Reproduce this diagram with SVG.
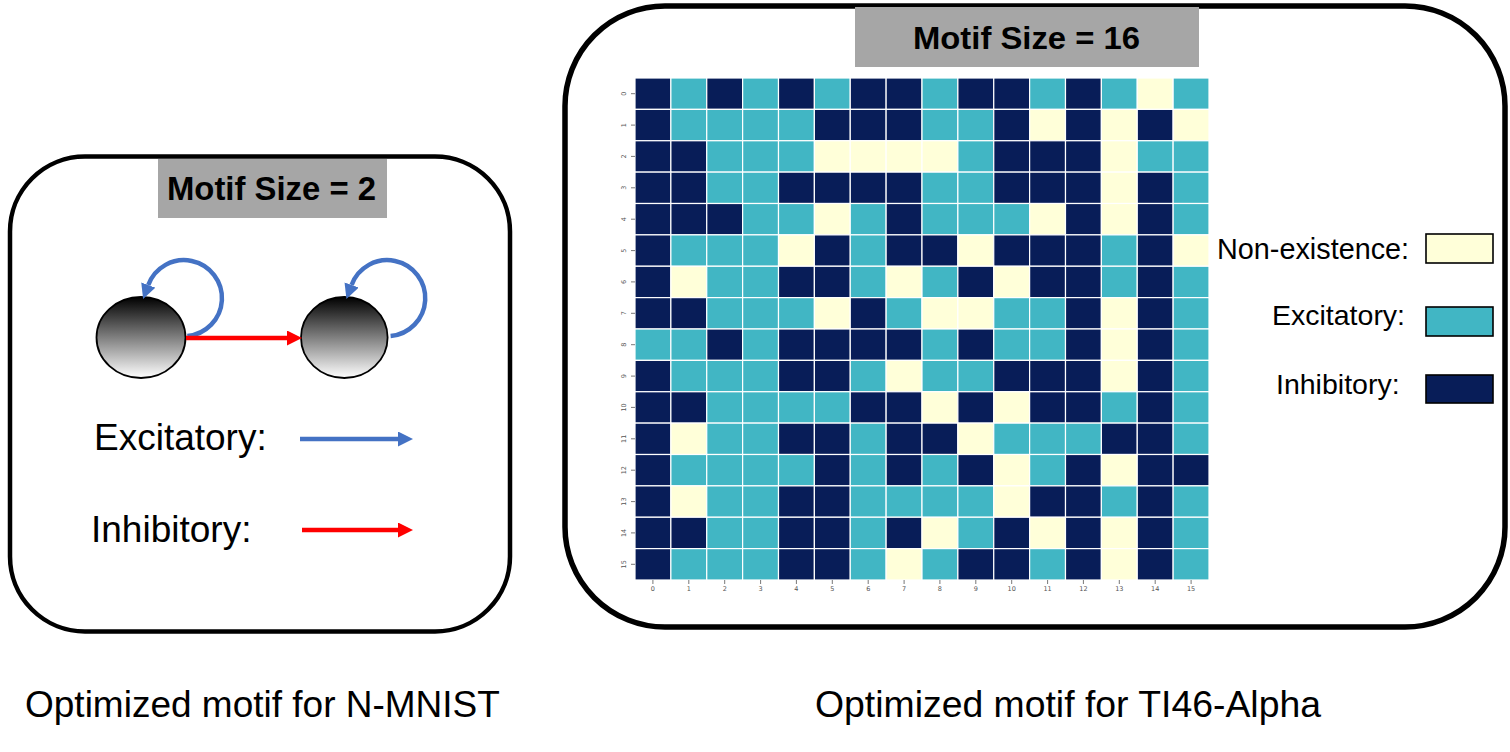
<svg xmlns="http://www.w3.org/2000/svg" xmlns:xlink="http://www.w3.org/1999/xlink" width="1510" height="752" viewBox="0 0 1510 752">
<style>
.box{fill:#fff;stroke:#000}
.tbg{fill:#a6a6a6}
.title{font-family:"Liberation Sans",Arial,sans-serif;font-weight:bold;fill:#000}
.lbl{font-family:"Liberation Sans",Arial,sans-serif;fill:#000}
.d{fill:#081d58;stroke:#fff;stroke-width:1.2}
.e{fill:#41b6c4;stroke:#fff;stroke-width:1.2}
.n{fill:#ffffd9;stroke:#fff;stroke-width:1.2}
.tk{font-family:"DejaVu Sans",sans-serif;font-size:6.5px;fill:#555}
.tl{stroke:#555;stroke-width:0.8}
.node{fill:url(#ng);stroke:#000;stroke-width:1.8}
.bl{fill:none;stroke:#4472c4;stroke-width:4.5}
.rd{fill:none;stroke:#ff0000;stroke-width:4.5}
.leg{stroke:#000;stroke-width:1.6}
</style>
<defs>
<linearGradient id="ng" x1="0" y1="0" x2="0" y2="1">
<stop offset="0" stop-color="#000"/>
<stop offset="1" stop-color="#fff"/>
</linearGradient>
<marker id="ab" markerUnits="userSpaceOnUse" markerWidth="16" markerHeight="16" refX="0" refY="7.5" orient="auto"><path d="M0,0 L15,7.5 L0,15 z" fill="#4472c4"/></marker>
<marker id="ar" markerUnits="userSpaceOnUse" markerWidth="16" markerHeight="16" refX="0" refY="7.5" orient="auto"><path d="M0,0 L15,7.5 L0,15 z" fill="#ff0000"/></marker>
<rect id="D" width="35.875" height="31.375" class="d"/>
<rect id="E" width="35.875" height="31.375" class="e"/>
<rect id="N" width="35.875" height="31.375" class="n"/>
</defs>
<rect width="1510" height="752" fill="#fff"/>

<g id="panel-left">
<rect class="box" x="10" y="156.5" width="500" height="475" rx="75" ry="75" stroke-width="4.5"/>
<rect class="tbg" x="158" y="159" width="229" height="59"/>
<text class="title" x="167" y="200" font-size="34" textLength="209" lengthAdjust="spacingAndGlyphs">Motif Size = 2</text>
</g>
<g id="node-1"><ellipse class="node" cx="141" cy="337.5" rx="44.5" ry="40.5"/></g>
<g id="node-2"><ellipse class="node" cx="344.3" cy="337.5" rx="43.3" ry="40.5"/></g>
<g id="connectors">
<path class="bl" d="M187.3,336 A38,38 0 1 0 148.3,285" marker-end="url(#ab)"/>
<path class="bl" d="M390.6,336 A38,38 0 1 0 351.6,285" marker-end="url(#ab)"/>
<path class="rd" d="M186,338 L287,338" marker-end="url(#ar)"/>
</g>
<g id="legend-left">
<text class="lbl" x="94" y="450" font-size="37">Excitatory:</text>
<path class="bl" d="M300,439 L398,439" marker-end="url(#ab)"/>
<text class="lbl" x="91" y="542" font-size="37">Inhibitory:</text>
<path class="rd" d="M302,530 L398,530" marker-end="url(#ar)"/>
</g>

<g id="panel-right">
<rect class="box" x="565" y="6" width="940" height="621" rx="100" ry="100" stroke-width="5.5"/>
<rect class="tbg" x="855" y="7" width="344" height="60"/>
<text class="title" x="913" y="49" font-size="32" textLength="227" lengthAdjust="spacingAndGlyphs">Motif Size = 16</text>
</g>

<g id="heatmap">
<g transform="translate(0,78)"><use href="#D" x="635"/><use href="#E" x="670.875"/><use href="#D" x="706.75"/><use href="#E" x="742.625"/><use href="#D" x="778.5"/><use href="#E" x="814.375"/><use href="#D" x="850.25"/><use href="#D" x="886.125"/><use href="#E" x="922"/><use href="#D" x="957.875"/><use href="#D" x="993.75"/><use href="#E" x="1029.625"/><use href="#D" x="1065.5"/><use href="#E" x="1101.375"/><use href="#N" x="1137.25"/><use href="#E" x="1173.125"/></g>
<g transform="translate(0,109.375)"><use href="#D" x="635"/><use href="#E" x="670.875"/><use href="#E" x="706.75"/><use href="#E" x="742.625"/><use href="#E" x="778.5"/><use href="#D" x="814.375"/><use href="#D" x="850.25"/><use href="#D" x="886.125"/><use href="#E" x="922"/><use href="#E" x="957.875"/><use href="#D" x="993.75"/><use href="#N" x="1029.625"/><use href="#D" x="1065.5"/><use href="#N" x="1101.375"/><use href="#D" x="1137.25"/><use href="#N" x="1173.125"/></g>
<g transform="translate(0,140.75)"><use href="#D" x="635"/><use href="#D" x="670.875"/><use href="#E" x="706.75"/><use href="#E" x="742.625"/><use href="#E" x="778.5"/><use href="#N" x="814.375"/><use href="#N" x="850.25"/><use href="#N" x="886.125"/><use href="#N" x="922"/><use href="#E" x="957.875"/><use href="#D" x="993.75"/><use href="#D" x="1029.625"/><use href="#D" x="1065.5"/><use href="#N" x="1101.375"/><use href="#E" x="1137.25"/><use href="#E" x="1173.125"/></g>
<g transform="translate(0,172.125)"><use href="#D" x="635"/><use href="#D" x="670.875"/><use href="#E" x="706.75"/><use href="#E" x="742.625"/><use href="#D" x="778.5"/><use href="#D" x="814.375"/><use href="#D" x="850.25"/><use href="#D" x="886.125"/><use href="#E" x="922"/><use href="#E" x="957.875"/><use href="#D" x="993.75"/><use href="#D" x="1029.625"/><use href="#D" x="1065.5"/><use href="#N" x="1101.375"/><use href="#D" x="1137.25"/><use href="#E" x="1173.125"/></g>
<g transform="translate(0,203.5)"><use href="#D" x="635"/><use href="#D" x="670.875"/><use href="#D" x="706.75"/><use href="#E" x="742.625"/><use href="#E" x="778.5"/><use href="#N" x="814.375"/><use href="#E" x="850.25"/><use href="#D" x="886.125"/><use href="#E" x="922"/><use href="#E" x="957.875"/><use href="#E" x="993.75"/><use href="#N" x="1029.625"/><use href="#D" x="1065.5"/><use href="#N" x="1101.375"/><use href="#D" x="1137.25"/><use href="#E" x="1173.125"/></g>
<g transform="translate(0,234.875)"><use href="#D" x="635"/><use href="#E" x="670.875"/><use href="#E" x="706.75"/><use href="#E" x="742.625"/><use href="#N" x="778.5"/><use href="#D" x="814.375"/><use href="#E" x="850.25"/><use href="#D" x="886.125"/><use href="#D" x="922"/><use href="#N" x="957.875"/><use href="#D" x="993.75"/><use href="#D" x="1029.625"/><use href="#D" x="1065.5"/><use href="#E" x="1101.375"/><use href="#D" x="1137.25"/><use href="#N" x="1173.125"/></g>
<g transform="translate(0,266.25)"><use href="#D" x="635"/><use href="#N" x="670.875"/><use href="#E" x="706.75"/><use href="#E" x="742.625"/><use href="#D" x="778.5"/><use href="#D" x="814.375"/><use href="#E" x="850.25"/><use href="#N" x="886.125"/><use href="#E" x="922"/><use href="#D" x="957.875"/><use href="#N" x="993.75"/><use href="#D" x="1029.625"/><use href="#D" x="1065.5"/><use href="#E" x="1101.375"/><use href="#D" x="1137.25"/><use href="#E" x="1173.125"/></g>
<g transform="translate(0,297.625)"><use href="#D" x="635"/><use href="#D" x="670.875"/><use href="#E" x="706.75"/><use href="#E" x="742.625"/><use href="#E" x="778.5"/><use href="#N" x="814.375"/><use href="#D" x="850.25"/><use href="#E" x="886.125"/><use href="#N" x="922"/><use href="#N" x="957.875"/><use href="#E" x="993.75"/><use href="#E" x="1029.625"/><use href="#D" x="1065.5"/><use href="#N" x="1101.375"/><use href="#D" x="1137.25"/><use href="#E" x="1173.125"/></g>
<g transform="translate(0,329)"><use href="#E" x="635"/><use href="#E" x="670.875"/><use href="#D" x="706.75"/><use href="#E" x="742.625"/><use href="#D" x="778.5"/><use href="#D" x="814.375"/><use href="#D" x="850.25"/><use href="#D" x="886.125"/><use href="#E" x="922"/><use href="#D" x="957.875"/><use href="#E" x="993.75"/><use href="#E" x="1029.625"/><use href="#D" x="1065.5"/><use href="#N" x="1101.375"/><use href="#D" x="1137.25"/><use href="#E" x="1173.125"/></g>
<g transform="translate(0,360.375)"><use href="#D" x="635"/><use href="#E" x="670.875"/><use href="#E" x="706.75"/><use href="#E" x="742.625"/><use href="#D" x="778.5"/><use href="#D" x="814.375"/><use href="#E" x="850.25"/><use href="#N" x="886.125"/><use href="#E" x="922"/><use href="#E" x="957.875"/><use href="#D" x="993.75"/><use href="#D" x="1029.625"/><use href="#D" x="1065.5"/><use href="#N" x="1101.375"/><use href="#D" x="1137.25"/><use href="#E" x="1173.125"/></g>
<g transform="translate(0,391.75)"><use href="#D" x="635"/><use href="#D" x="670.875"/><use href="#E" x="706.75"/><use href="#E" x="742.625"/><use href="#E" x="778.5"/><use href="#E" x="814.375"/><use href="#D" x="850.25"/><use href="#D" x="886.125"/><use href="#N" x="922"/><use href="#D" x="957.875"/><use href="#N" x="993.75"/><use href="#D" x="1029.625"/><use href="#D" x="1065.5"/><use href="#E" x="1101.375"/><use href="#D" x="1137.25"/><use href="#E" x="1173.125"/></g>
<g transform="translate(0,423.125)"><use href="#D" x="635"/><use href="#N" x="670.875"/><use href="#E" x="706.75"/><use href="#E" x="742.625"/><use href="#D" x="778.5"/><use href="#D" x="814.375"/><use href="#E" x="850.25"/><use href="#D" x="886.125"/><use href="#D" x="922"/><use href="#N" x="957.875"/><use href="#E" x="993.75"/><use href="#E" x="1029.625"/><use href="#E" x="1065.5"/><use href="#D" x="1101.375"/><use href="#D" x="1137.25"/><use href="#E" x="1173.125"/></g>
<g transform="translate(0,454.5)"><use href="#D" x="635"/><use href="#E" x="670.875"/><use href="#E" x="706.75"/><use href="#E" x="742.625"/><use href="#E" x="778.5"/><use href="#D" x="814.375"/><use href="#E" x="850.25"/><use href="#D" x="886.125"/><use href="#E" x="922"/><use href="#D" x="957.875"/><use href="#N" x="993.75"/><use href="#E" x="1029.625"/><use href="#D" x="1065.5"/><use href="#N" x="1101.375"/><use href="#D" x="1137.25"/><use href="#D" x="1173.125"/></g>
<g transform="translate(0,485.875)"><use href="#D" x="635"/><use href="#N" x="670.875"/><use href="#E" x="706.75"/><use href="#E" x="742.625"/><use href="#D" x="778.5"/><use href="#D" x="814.375"/><use href="#E" x="850.25"/><use href="#E" x="886.125"/><use href="#E" x="922"/><use href="#E" x="957.875"/><use href="#N" x="993.75"/><use href="#D" x="1029.625"/><use href="#D" x="1065.5"/><use href="#E" x="1101.375"/><use href="#D" x="1137.25"/><use href="#E" x="1173.125"/></g>
<g transform="translate(0,517.25)"><use href="#D" x="635"/><use href="#D" x="670.875"/><use href="#E" x="706.75"/><use href="#E" x="742.625"/><use href="#D" x="778.5"/><use href="#D" x="814.375"/><use href="#E" x="850.25"/><use href="#D" x="886.125"/><use href="#N" x="922"/><use href="#E" x="957.875"/><use href="#D" x="993.75"/><use href="#N" x="1029.625"/><use href="#D" x="1065.5"/><use href="#N" x="1101.375"/><use href="#D" x="1137.25"/><use href="#E" x="1173.125"/></g>
<g transform="translate(0,548.625)"><use href="#D" x="635"/><use href="#E" x="670.875"/><use href="#E" x="706.75"/><use href="#E" x="742.625"/><use href="#D" x="778.5"/><use href="#D" x="814.375"/><use href="#E" x="850.25"/><use href="#N" x="886.125"/><use href="#E" x="922"/><use href="#D" x="957.875"/><use href="#D" x="993.75"/><use href="#E" x="1029.625"/><use href="#D" x="1065.5"/><use href="#N" x="1101.375"/><use href="#D" x="1137.25"/><use href="#E" x="1173.125"/></g>
</g>

<g id="heatmap-ticks">
<g class="tl">
<path d="M631,93.7h4M631,125.1h4M631,156.4h4M631,187.8h4M631,219.2h4M631,250.6h4M631,281.9h4M631,313.3h4M631,344.7h4M631,376.1h4M631,407.4h4M631,438.8h4M631,470.2h4M631,501.6h4M631,532.9h4M631,564.3h4"/>
<path d="M652.9,580v4M688.8,580v4M724.7,580v4M760.6,580v4M796.4,580v4M832.3,580v4M868.2,580v4M904.1,580v4M939.9,580v4M975.8,580v4M1011.7,580v4M1047.6,580v4M1083.4,580v4M1119.3,580v4M1155.2,580v4M1191.1,580v4"/>
</g>
<g class="tk" text-anchor="middle">
<text transform="translate(626,93.7) rotate(-90)">0</text>
<text transform="translate(626,125.1) rotate(-90)">1</text>
<text transform="translate(626,156.4) rotate(-90)">2</text>
<text transform="translate(626,187.8) rotate(-90)">3</text>
<text transform="translate(626,219.2) rotate(-90)">4</text>
<text transform="translate(626,250.6) rotate(-90)">5</text>
<text transform="translate(626,281.9) rotate(-90)">6</text>
<text transform="translate(626,313.3) rotate(-90)">7</text>
<text transform="translate(626,344.7) rotate(-90)">8</text>
<text transform="translate(626,376.1) rotate(-90)">9</text>
<text transform="translate(626,407.4) rotate(-90)">10</text>
<text transform="translate(626,438.8) rotate(-90)">11</text>
<text transform="translate(626,470.2) rotate(-90)">12</text>
<text transform="translate(626,501.6) rotate(-90)">13</text>
<text transform="translate(626,532.9) rotate(-90)">14</text>
<text transform="translate(626,564.3) rotate(-90)">15</text>
<text x="652.9" y="591">0</text><text x="688.8" y="591">1</text><text x="724.7" y="591">2</text><text x="760.6" y="591">3</text>
<text x="796.4" y="591">4</text><text x="832.3" y="591">5</text><text x="868.2" y="591">6</text><text x="904.1" y="591">7</text>
<text x="939.9" y="591">8</text><text x="975.8" y="591">9</text><text x="1011.7" y="591">10</text><text x="1047.6" y="591">11</text>
<text x="1083.4" y="591">12</text><text x="1119.3" y="591">13</text><text x="1155.2" y="591">14</text><text x="1191.1" y="591">15</text>
</g>
</g>

<g id="legend-right">
<text class="lbl" x="1217" y="259" font-size="28.8">Non-existence:</text>
<rect class="leg" x="1426" y="234" width="67" height="29" fill="#ffffd9"/>
<text class="lbl" x="1272" y="325" font-size="28.5">Excitatory:</text>
<rect class="leg" x="1426" y="307" width="67" height="29" fill="#41b6c4"/>
<text class="lbl" x="1276" y="394" font-size="28.5">Inhibitory:</text>
<rect class="leg" x="1426" y="375" width="67" height="28" fill="#081d58"/>
</g>

<g id="captions">
<text class="lbl" x="25" y="717" font-size="37">Optimized motif for N-MNIST</text>
<text class="lbl" x="815" y="717" font-size="37" textLength="506" lengthAdjust="spacingAndGlyphs">Optimized motif for TI46-Alpha</text>
</g>
</svg>
